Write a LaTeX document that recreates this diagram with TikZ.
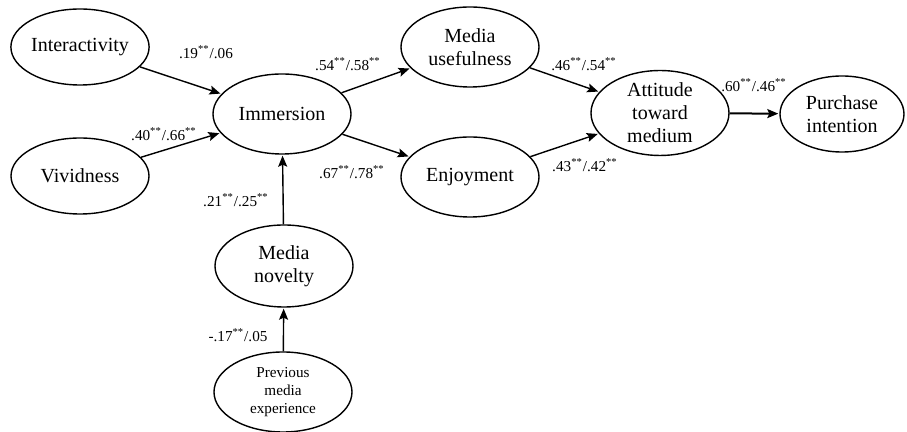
\documentclass[tikz,border=0pt]{standalone}
\usepackage{fontspec}
\setmainfont{Liberation Serif}
\usepackage{tikz}
\usetikzlibrary{shapes,arrows.meta,positioning}

\tikzset{
  construct/.style={draw,ellipse,line width=0.7pt,inner sep=0pt,minimum width=69pt,minimum height=38pt,align=center,font=\fontsize{10}{11.5}\selectfont},
  path coef/.style={font=\fontsize{7.6}{9}\selectfont,inner sep=1pt},
  effect/.style={-{Stealth[length=5.5pt,width=4.5pt,inset=1pt]},line width=0.7pt,shorten >=0.5pt}
}
\newcommand{\sig}{\textsuperscript{**}}

\begin{document}
\begin{tikzpicture}[x=0.5pt,y=-0.5pt]
\useasboundingbox (0,0) rectangle (907,432);

% Antecedents
\node[construct] (inter) at (80,47) {Interactivity};
\node[construct] (vivid) at (80,176) {Vividness};

% Mediator
\node[construct,minimum height=40pt] (immer) at (282,114) {Immersion};

% Novelty and experience
\node[construct,minimum height=41pt] (novel) at (284,266) {Media\\novelty};
\node[construct,minimum height=40pt,font=\fontsize{7.6}{9}\selectfont] (prev) at (283,392) {Previous\\media\\experience};

% Beliefs
\node[construct,minimum height=40pt] (useful) at (470,47) {Media\\usefulness};
\node[construct,minimum height=40pt] (enjoy) at (470,177) {Enjoyment};

% Outcomes
\node[construct,minimum height=40pt] (attit) at (660,113) {Attitude\\toward\\medium};
\node[construct,minimum width=62pt] (purch) at (842,114) {Purchase\\intention};

% Paths
\draw[effect] (inter) -- (immer);
\draw[effect] (vivid) -- (immer);
\draw[effect] (immer) -- (useful);
\draw[effect] (immer) -- (enjoy);
\draw[effect] (novel) -- (immer);
\draw[effect] (prev) -- (novel);
\draw[effect] (useful) -- (attit);
\draw[effect] (enjoy) -- (attit);
\draw[effect,line width=1pt] (attit) -- (purch);

% Coefficients
\node[path coef] (c1) at (206,52) {.19\sig/.06};
\node[path coef] (c2) at (164,134) {.40\sig/.66\sig};
\node[path coef] (c3) at (348,64) {.54\sig/.58\sig};
\node[path coef] (c4) at (352,172) {.67\sig/.78\sig};
\node[path coef] (c5) at (236,200) {.21\sig/.25\sig};
\node[path coef] (c6) at (584,64) {.46\sig/.54\sig};
\node[path coef] (c7) at (585,165) {.43\sig/.42\sig};
\node[path coef] (c8) at (754,85) {.60\sig/.46\sig};
\node[path coef] (c9) at (238,335) {-.17\sig/.05};

\end{tikzpicture}
\end{document}
